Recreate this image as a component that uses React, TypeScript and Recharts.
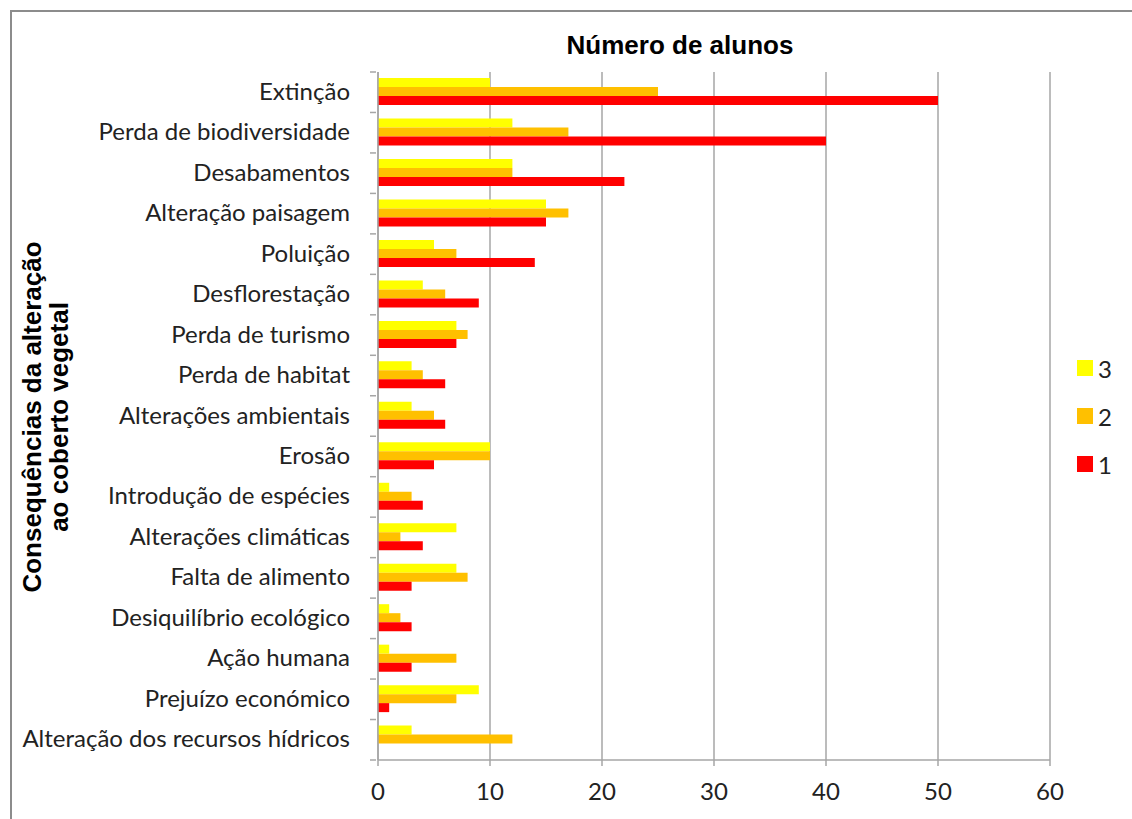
import { BarChart, Bar, XAxis, YAxis, CartesianGrid } from 'recharts';

const categories = [
  'Extinção',
  'Perda de biodiversidade',
  'Desabamentos',
  'Alteração paisagem',
  'Poluição',
  'Desflorestação',
  'Perda de turismo',
  'Perda de habitat',
  'Alterações ambientais',
  'Erosão',
  'Introdução de espécies',
  'Alterações climáticas',
  'Falta de alimento',
  'Desiquilíbrio ecológico',
  'Ação humana',
  'Prejuízo económico',
  'Alteração dos recursos hídricos',
];

const series3 = [10, 12, 12, 15, 5, 4, 7, 3, 3, 10, 1, 7, 7, 1, 1, 9, 3];
const series2 = [25, 17, 12, 17, 7, 6, 8, 4, 5, 10, 3, 2, 8, 2, 7, 7, 12];
const series1 = [50, 40, 22, 15, 14, 9, 7, 6, 6, 5, 4, 4, 3, 3, 3, 1, 0];

const xTicks = [0, 10, 20, 30, 40, 50, 60];

const legendItems = [
  { label: '3', color: '#FFFF00' },
  { label: '2', color: '#FFC000' },
  { label: '1', color: '#FF0000' },
];

const data = categories.map((name, i) => ({
  name,
  s3: series3[i],
  s2: series2[i],
  s1: series1[i],
}));

const W = 1132;
const H = 819;
const TOP = 72;
const BOTTOM = 59;
const band = (H - TOP - BOTTOM) / categories.length;
const labelFont = 'Lato, "Open Sans", sans-serif';
const boldFont = '"Liberation Sans", Arial, sans-serif';
const gray = '#a6a6a6';

function CategoryTick(props: any) {
  const { x, y, payload, index } = props;
  const top = y - band / 2;
  return (
    <g>
      <line x1={x} x2={x + 6} y1={top} y2={top} stroke={gray} strokeWidth={1.5} />
      {index === categories.length - 1 && (
        <line x1={x} x2={x + 6} y1={top + band} y2={top + band} stroke={gray} strokeWidth={1.5} />
      )}
      <text
        x={x - 20}
        y={y - 2}
        textAnchor="end"
        dominantBaseline="central"
        fontSize={24}
        fill="#222"
        fontFamily={labelFont}
      >
        {payload.value}
      </text>
    </g>
  );
}

export default function App() {
  return (
    <div style={{ position: 'absolute', left: 0, top: 0, width: W, height: H, overflow: 'hidden', background: '#fff' }}>
      <div
        style={{
          position: 'absolute',
          left: 10,
          top: 10,
          width: W + 20,
          height: H + 20,
          border: '2px solid #8c8c8c',
          boxSizing: 'border-box',
        }}
      />
      <div
        style={{
          position: 'absolute',
          left: 0,
          width: 1360,
          top: 30,
          textAlign: 'center',
          fontFamily: boldFont,
          fontWeight: 'bold',
          fontSize: 26,
          color: '#000',
        }}
      >
        Número de alunos
      </div>
      <svg style={{ position: 'absolute', left: 0, top: 0 }} width={90} height={H}>
        <g transform="translate(0, 417) rotate(-90)" fontFamily={boldFont} fontWeight="bold" fontSize={26}>
          <text x={0} y={41} textAnchor="middle">Consequências da alteração</text>
          <text x={0} y={68} textAnchor="middle">ao coberto vegetal</text>
        </g>
      </svg>
      <div style={{ position: 'absolute', left: 1077, top: 344, fontFamily: labelFont, fontSize: 24, color: '#222' }}>
        {legendItems.map((it) => (
          <div key={it.label} style={{ display: 'flex', alignItems: 'center', height: 48 }}>
            <span style={{ width: 16, height: 16, background: it.color, display: 'inline-block', marginRight: 5 }} />
            {it.label}
          </div>
        ))}
      </div>
      <BarChart
        width={W}
        height={H}
        data={data}
        layout="vertical"
        margin={{ top: TOP, right: 82, bottom: 0, left: 0 }}
        barCategoryGap="15%"
        barGap={0}
        style={{ position: 'absolute', left: 0, top: 0 }}
      >
        <CartesianGrid horizontal={false} stroke={gray} strokeWidth={1.5} />
        <XAxis
          type="number"
          domain={[0, 60]}
          ticks={xTicks}
          axisLine={{ stroke: gray, strokeWidth: 1.5 }}
          tickLine={{ stroke: gray, strokeWidth: 1.5 }}
          tickSize={6}
          tickMargin={17}
          tick={{ fontSize: 24, fill: '#222', fontFamily: labelFont }}
          height={BOTTOM}
        />
        <YAxis
          type="category"
          dataKey="name"
          width={378}
          axisLine={{ stroke: gray, strokeWidth: 1.5 }}
          tickLine={false}
          tick={<CategoryTick />}
          interval={0}
        />
        <Bar dataKey="s3" name="3" fill="#FFFF00" isAnimationActive={false} />
        <Bar dataKey="s2" name="2" fill="#FFC000" isAnimationActive={false} />
        <Bar dataKey="s1" name="1" fill="#FF0000" isAnimationActive={false} />
      </BarChart>
    </div>
  );
}
